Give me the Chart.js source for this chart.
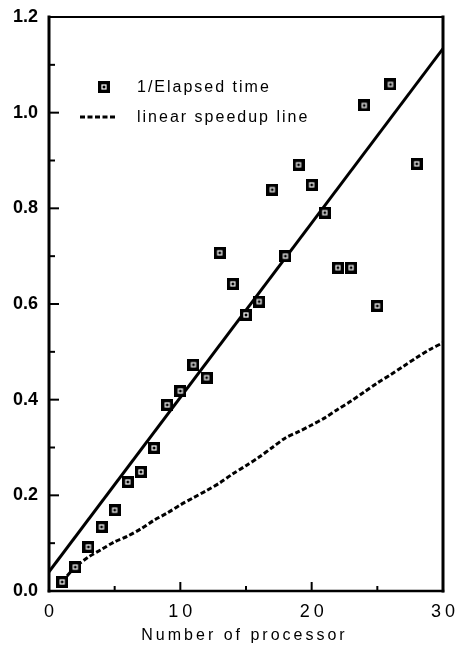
<!DOCTYPE html>
<html>
<head>
<meta charset="utf-8">
<script src="https://cdn.jsdelivr.net/npm/chart.js@4.4.1/dist/chart.umd.min.js"></script>
<style>
  html, body { margin: 0; padding: 0; background: #fff; }
  #wrap { width: 461px; height: 650px; }
</style>
</head>
<body>
<div id="wrap"><canvas id="speedup"></canvas></div>
<script>
// measured runs: processor count vs 1/elapsed time
const processors = [1, 2, 3, 4, 5, 6, 7, 8, 9, 10, 11, 12, 13, 14, 15, 16, 17, 18, 19, 20, 21, 22, 23, 24, 25, 26, 28];
const inverseTime = [0.019, 0.050, 0.092, 0.134, 0.169, 0.228, 0.249, 0.299, 0.389, 0.418, 0.473, 0.446, 0.707, 0.642,
                     0.577, 0.605, 0.839, 0.700, 0.891, 0.849, 0.791, 0.676, 0.676, 1.015, 0.596, 1.059, 0.893];

// straight fit through the measurements
const fitX = [0, 30];
const fitY = [0.040, 1.134];

// linear speedup reference
const linearX = [1, 2, 3, 4, 5, 6, 7, 8, 9, 10, 11, 12, 13, 14, 15, 16, 17, 18, 19, 20, 21, 22, 23, 24, 25, 26, 27, 28, 29, 30];
const linearY = [0.020, 0.050, 0.071, 0.087, 0.103, 0.115, 0.130, 0.148, 0.163, 0.180, 0.195, 0.210, 0.226, 0.245, 0.262,
                 0.280, 0.300, 0.320, 0.333, 0.347, 0.362, 0.380, 0.397, 0.416, 0.435, 0.452, 0.470, 0.488, 0.505, 0.519];

const xTicks = [0, 10, 20, 30];
const xMinorTicks = [5, 10, 15, 20, 25];
const yTicks = [0, 0.2, 0.4, 0.6, 0.8, 1.0, 1.2];
const yMinorTicks = [0.1, 0.2, 0.3, 0.4, 0.5, 0.6, 0.7, 0.8, 0.9, 1.0, 1.1];
const xTitle = 'Number of processor';

const FONT = '"Liberation Sans", Arial, Helvetica, sans-serif';

// black square with a small hollow centre
function makeMarker() {
  const c = document.createElement('canvas');
  c.width = 12; c.height = 12;
  const g = c.getContext('2d');
  g.fillStyle = '#000';
  g.fillRect(0, 0, 12, 12);
  g.strokeStyle = '#fff';
  g.lineWidth = 1.2;
  g.strokeRect(4, 4, 4, 4);
  return c;
}
const marker = makeMarker();

// text drawn with extra tracking, centred on x
function spacedText(ctx, text, x, y, spacing) {
  ctx.letterSpacing = spacing + 'px';
  const w = ctx.measureText(text).width - spacing;
  ctx.fillText(text, x - w / 2, y);
  ctx.letterSpacing = '0px';
}

const framePlugin = {
  id: 'frame',
  afterDatasetsDraw(chart) {
    const { ctx, chartArea: a, scales } = chart;
    ctx.save();
    ctx.strokeStyle = '#000';
    ctx.lineCap = 'square';
    ctx.lineWidth = 2;
    ctx.beginPath(); ctx.moveTo(a.left, a.top); ctx.lineTo(a.right, a.top); ctx.stroke();
    ctx.lineWidth = 2.5;
    ctx.beginPath(); ctx.moveTo(a.left, a.bottom); ctx.lineTo(a.right, a.bottom); ctx.stroke();
    ctx.lineWidth = 3;
    ctx.beginPath(); ctx.moveTo(a.left, a.top); ctx.lineTo(a.left, a.bottom); ctx.stroke();
    ctx.beginPath(); ctx.moveTo(a.right, a.top); ctx.lineTo(a.right, a.bottom); ctx.stroke();

    // inward tick marks
    ctx.lineWidth = 2;
    ctx.lineCap = 'butt';
    yMinorTicks.forEach(v => {
      const y = scales.y.getPixelForValue(v);
      const len = Math.abs(v * 10 % 2) < 0.01 ? 10 : 6;
      ctx.beginPath(); ctx.moveTo(a.left, y); ctx.lineTo(a.left + len, y); ctx.stroke();
    });
    xMinorTicks.forEach(v => {
      const x = scales.x.getPixelForValue(v);
      const len = v % 10 === 0 ? 9 : 5;
      ctx.beginPath(); ctx.moveTo(x, a.bottom); ctx.lineTo(x, a.bottom - len); ctx.stroke();
    });

    ctx.fillStyle = '#000';
    ctx.textBaseline = 'middle';

    // x tick labels and axis title
    ctx.font = '18px ' + FONT;
    xTicks.forEach(v => spacedText(ctx, String(v), scales.x.getPixelForValue(v), a.bottom + 21, 4));
    ctx.font = '16px ' + FONT;
    spacedText(ctx, xTitle, (a.left + a.right) / 2 - 3, a.bottom + 45, 3);

    // legend
    const ds = chart.data.datasets;
    ctx.drawImage(marker, 98, 81);
    ctx.letterSpacing = '2px';
    ctx.fillText(ds[0].label, 137, 88);
    ctx.letterSpacing = '0px';
    ctx.lineWidth = 3;
    ctx.setLineDash([5, 2.5]);
    ctx.beginPath(); ctx.moveTo(80, 117); ctx.lineTo(116, 117); ctx.stroke();
    ctx.setLineDash([]);
    ctx.letterSpacing = '2px';
    ctx.fillText(ds[2].label, 137, 118);
    ctx.letterSpacing = '0px';
    ctx.restore();
  }
};

new Chart(document.getElementById('speedup'), {
  type: 'scatter',
  data: {
    datasets: [
      {
        label: '1/Elapsed time',
        data: processors.map((p, i) => ({ x: p, y: inverseTime[i] })),
        pointStyle: marker,
        pointRadius: 6,
        showLine: false
      },
      {
        label: 'fit',
        data: fitX.map((p, i) => ({ x: p, y: fitY[i] })),
        showLine: true,
        borderColor: '#000',
        borderWidth: 3,
        pointRadius: 0
      },
      {
        label: 'linear speedup line',
        data: linearX.map((p, i) => ({ x: p, y: linearY[i] })),
        showLine: true,
        borderColor: '#000',
        borderWidth: 3,
        borderDash: [5, 2.5],
        pointRadius: 0,
        tension: 0.3
      }
    ]
  },
  options: {
    responsive: true,
    maintainAspectRatio: false,
    animation: false,
    layout: { padding: { top: 17, right: 18, left: 0, bottom: 0 } },
    plugins: {
      legend: { display: false },
      tooltip: { enabled: false }
    },
    scales: {
      x: {
        type: 'linear',
        min: 0,
        max: 30,
        afterBuildTicks: s => { s.ticks = xTicks.map(v => ({ value: v })); },
        afterFit: s => { s.height = 59; s.paddingLeft = 0; s.paddingRight = 0; },
        grid: { display: false, drawTicks: false },
        border: { display: false },
        ticks: { display: false }
      },
      y: {
        min: 0,
        max: 1.2,
        afterBuildTicks: s => { s.ticks = yTicks.map(v => ({ value: v })); },
        afterFit: s => { s.width = 49; s.paddingTop = 0; s.paddingBottom = 0; },
        grid: { display: false, drawTicks: false },
        border: { display: false },
        ticks: {
          padding: 11,
          color: '#000',
          font: { family: FONT, size: 18, weight: 'bold' },
          callback: v => v.toFixed(1)
        }
      }
    }
  },
  plugins: [framePlugin]
});
</script>
</body>
</html>
